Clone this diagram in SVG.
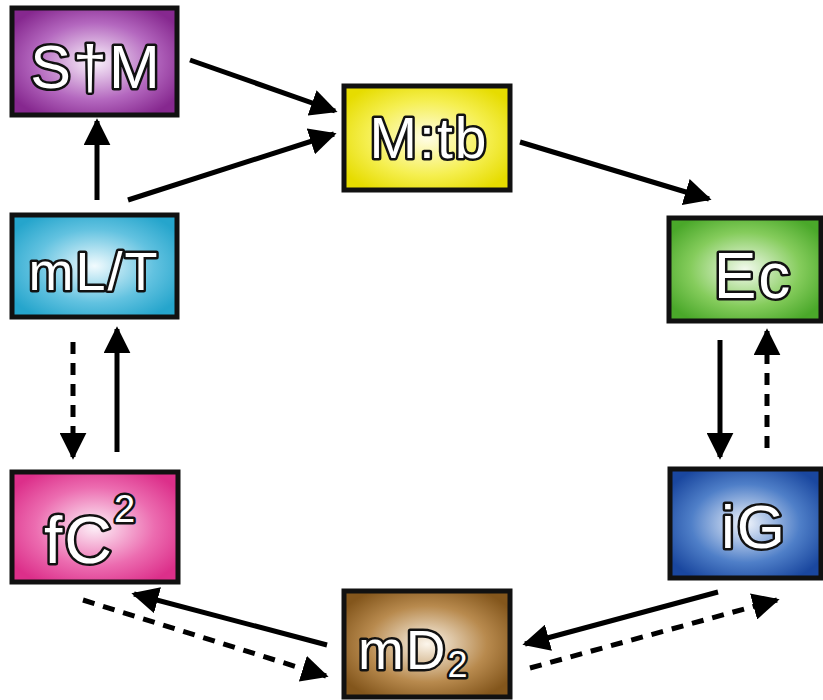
<svg xmlns="http://www.w3.org/2000/svg" width="823" height="700" viewBox="0 0 823 700">
<defs>
<style>
.box{stroke:#111;stroke-width:5}
.lbl{font-family:"Liberation Sans","DejaVu Sans",Arial,sans-serif;fill:#fff;stroke:#111;stroke-width:5;stroke-linejoin:round;paint-order:stroke;text-anchor:middle;letter-spacing:2px}
.st{font-family:"Liberation Sans","DejaVu Sans",Arial,sans-serif;fill:#fff;stroke:#111;stroke-width:5;stroke-linejoin:round;paint-order:stroke;letter-spacing:2px}
.ln{stroke:#000;stroke-width:5;fill:none}
.dash{stroke-dasharray:12 9}
</style>
<marker id="ah" viewBox="0 0 10 10" refX="9" refY="5" markerWidth="27" markerHeight="27" markerUnits="userSpaceOnUse" orient="auto">
<path d="M0,0 L10,5 L0,10 z" fill="#000"/>
</marker>
<radialGradient id="gP" cx="50%" cy="50%" r="60%"><stop offset="0" stop-color="#fbf4fc"/><stop offset="0.6" stop-color="#b468bf"/><stop offset="1" stop-color="#86288f"/></radialGradient>
<radialGradient id="gY" cx="50%" cy="50%" r="60%"><stop offset="0" stop-color="#fffde6"/><stop offset="0.6" stop-color="#f5ef50"/><stop offset="1" stop-color="#e6dc00"/></radialGradient>
<radialGradient id="gG" cx="50%" cy="50%" r="60%"><stop offset="0" stop-color="#f3faee"/><stop offset="0.6" stop-color="#85cc5c"/><stop offset="1" stop-color="#4aa82a"/></radialGradient>
<radialGradient id="gC" cx="50%" cy="50%" r="60%"><stop offset="0" stop-color="#f2fbfe"/><stop offset="0.6" stop-color="#62c2e0"/><stop offset="1" stop-color="#25a5cc"/></radialGradient>
<radialGradient id="gK" cx="50%" cy="50%" r="60%"><stop offset="0" stop-color="#fdf1f8"/><stop offset="0.6" stop-color="#ec6cb0"/><stop offset="1" stop-color="#dc2f8a"/></radialGradient>
<radialGradient id="gB" cx="50%" cy="50%" r="60%"><stop offset="0" stop-color="#f1f5fc"/><stop offset="0.6" stop-color="#4f7fc8"/><stop offset="1" stop-color="#1a479f"/></radialGradient>
<radialGradient id="gN" cx="50%" cy="50%" r="60%"><stop offset="0" stop-color="#fcf6ec"/><stop offset="0.6" stop-color="#b88a4e"/><stop offset="1" stop-color="#83561c"/></radialGradient>
</defs>
<rect width="823" height="700" fill="#fff"/>
<g id="connectors">
<line class="ln" x1="190" y1="60" x2="335" y2="111" marker-end="url(#ah)"/>
<line class="ln" x1="128" y1="200" x2="334" y2="134" marker-end="url(#ah)"/>
<line class="ln" x1="97" y1="200" x2="97" y2="121" marker-end="url(#ah)"/>
<line class="ln" x1="520" y1="142" x2="709" y2="199" marker-end="url(#ah)"/>
<line class="ln" x1="720" y1="340" x2="720" y2="457" marker-end="url(#ah)"/>
<line class="ln dash" x1="767" y1="448" x2="767" y2="331" marker-end="url(#ah)"/>
<line class="ln dash" x1="73" y1="342" x2="73" y2="457" marker-end="url(#ah)"/>
<line class="ln" x1="117" y1="452" x2="117" y2="329" marker-end="url(#ah)"/>
<line class="ln" x1="327" y1="645" x2="134" y2="594" marker-end="url(#ah)"/>
<line class="ln dash" x1="83" y1="600" x2="326" y2="676" marker-end="url(#ah)"/>
<line class="ln" x1="718" y1="592" x2="525" y2="644" marker-end="url(#ah)"/>
<line class="ln dash" x1="530" y1="668" x2="777" y2="600" marker-end="url(#ah)"/>
</g>
<g id="SM">
<rect class="box" x="12" y="8" width="165" height="107" fill="url(#gP)"/>
<text class="lbl" x="96" y="88" font-size="61">S†M</text>
</g>
<g id="Mtb">
<rect class="box" x="344" y="86" width="166" height="104" fill="url(#gY)"/>
<text class="lbl" x="429" y="158" font-size="57">M:tb</text>
</g>
<g id="Ec">
<rect class="box" x="669" y="218" width="152" height="103" fill="url(#gG)"/>
<text class="lbl" x="753" y="298" font-size="64">Ec</text>
</g>
<g id="mLT">
<rect class="box" x="12" y="215" width="165" height="102" fill="url(#gC)"/>
<text class="lbl" x="94" y="290" font-size="54">mL/T</text>
</g>
<g id="fC2">
<rect class="box" x="12" y="472" width="166" height="110" fill="url(#gK)"/>
<text class="st" x="44" y="563" font-size="66">fC<tspan font-size="38" dy="-41">2</tspan></text>
</g>
<g id="iG">
<rect class="box" x="670" y="469" width="151" height="109" fill="url(#gB)"/>
<text class="lbl" x="754" y="548" font-size="62">iG</text>
</g>
<g id="mD2">
<rect class="box" x="344" y="591" width="166" height="106" fill="url(#gN)"/>
<text class="st" x="358" y="669" font-size="55">mD<tspan font-size="36" dy="8">2</tspan></text>
</g>
</svg>
